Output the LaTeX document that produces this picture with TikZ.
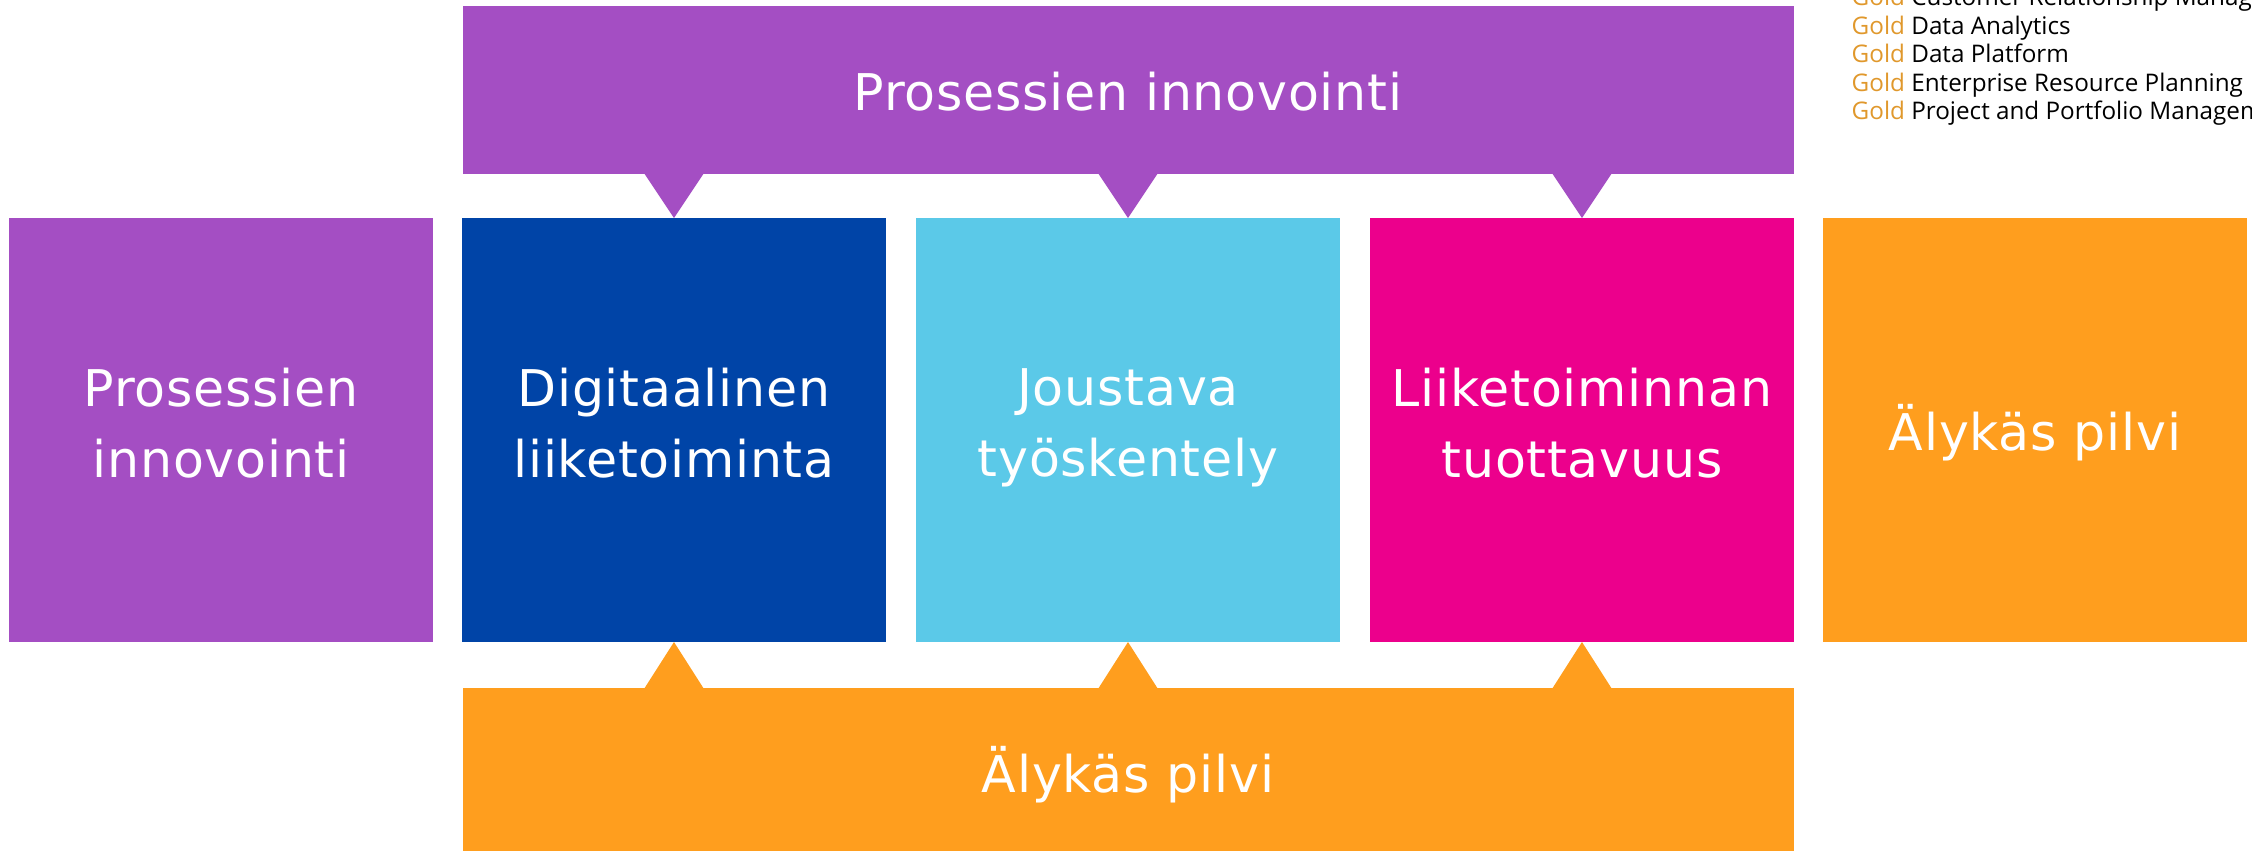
\documentclass[tikz,border=0pt]{standalone}
\usepackage{fontspec}
\usepackage{xcolor}
\usepackage{tikz}
\usetikzlibrary{calc}
\usetikzlibrary{positioning}

\newfontfamily\tilefont{DejaVu Sans}[LetterSpace=1.5]
\newfontfamily\legendfont{Open Sans}

\definecolor{procpurple}{HTML}{A44EC3}
\definecolor{digiblue}{HTML}{0044A7}
\definecolor{flexcyan}{HTML}{5BC9E8}
\definecolor{prodpink}{HTML}{EC008C}
\definecolor{cloudorange}{HTML}{FF9E1E}
\definecolor{goldtext}{HTML}{E0982C}

% same line height for every tile line
\newcommand{\tilestrut}{\rule[-4.27pt]{0pt}{20.2pt}}

\begin{document}
\begin{tikzpicture}[
    x = .1mm,
    y = -.1mm,
    font = \tilefont\fontsize{14.4}{20.2}\selectfont,
    tile/.style = {
      rectangle,
      text=white,
      align=center,
      minimum width=4.24cm,
      minimum height=4.24cm,
      inner sep=0pt,
      outer sep=0pt,
      execute at begin node=\tilestrut,
      execute at end node=\tilestrut
    },
    band/.style = {
      rectangle,
      text=white,
      minimum width=13.31cm,
      minimum height=1.68cm,
      inner sep=0pt,
      outer sep=0pt,
      execute at begin node=\tilestrut
    },
    legend/.style = {
      font=\legendfont\fontsize{6.9}{8.1}\selectfont,
      anchor=base west,
      inner sep=0pt
    }
  ]
    \clip (0,0) rectangle (2252,850);

    \node[tile, fill=procpurple] (proc) at (221,430) {Prosessien\\innovointi};
    \node[tile, fill=digiblue, right=2.9mm of proc] (digi) {Digitaalinen\\liiketoiminta};
    \node[tile, fill=flexcyan, right=3mm of digi] (flex) {Joustava\\työskentely};
    \node[tile, fill=prodpink, right=3mm of flex] (prod) {Liiketoiminnan\\tuottavuus};
    \node[tile, fill=cloudorange, right=2.9mm of prod] (cloud) {Älykäs pilvi};

    \node[band, fill=procpurple, above=4.4mm of flex] (procband) {Prosessien innovointi};
    \node[band, fill=cloudorange, below=4.6mm of flex] (cloudband) {Älykäs pilvi};

    % pointers from the bands to the middle tiles
    \foreach \t in {digi,flex,prod} {
      \fill[procpurple] ($(\t.north |- procband.south)+(-30,-1)$) -- (\t.north)
        -- ($(\t.north |- procband.south)+(30,-1)$) -- cycle;
      \fill[cloudorange] ($(\t.south |- cloudband.north)+(-30,1)$) -- (\t.south)
        -- ($(\t.south |- cloudband.north)+(30,1)$) -- cycle;
    }

    % partner list
    \foreach \area [count=\i] in {Customer Relationship Management,Data Analytics,Data Platform,Enterprise Resource Planning,Project and Portfolio Management} {
      \node[legend] (gold\i) at (1851,{5.5+28.5*(\i-1)}) {\textcolor{goldtext}{Gold} \area};
    }

  \end{tikzpicture}
\end{document}
